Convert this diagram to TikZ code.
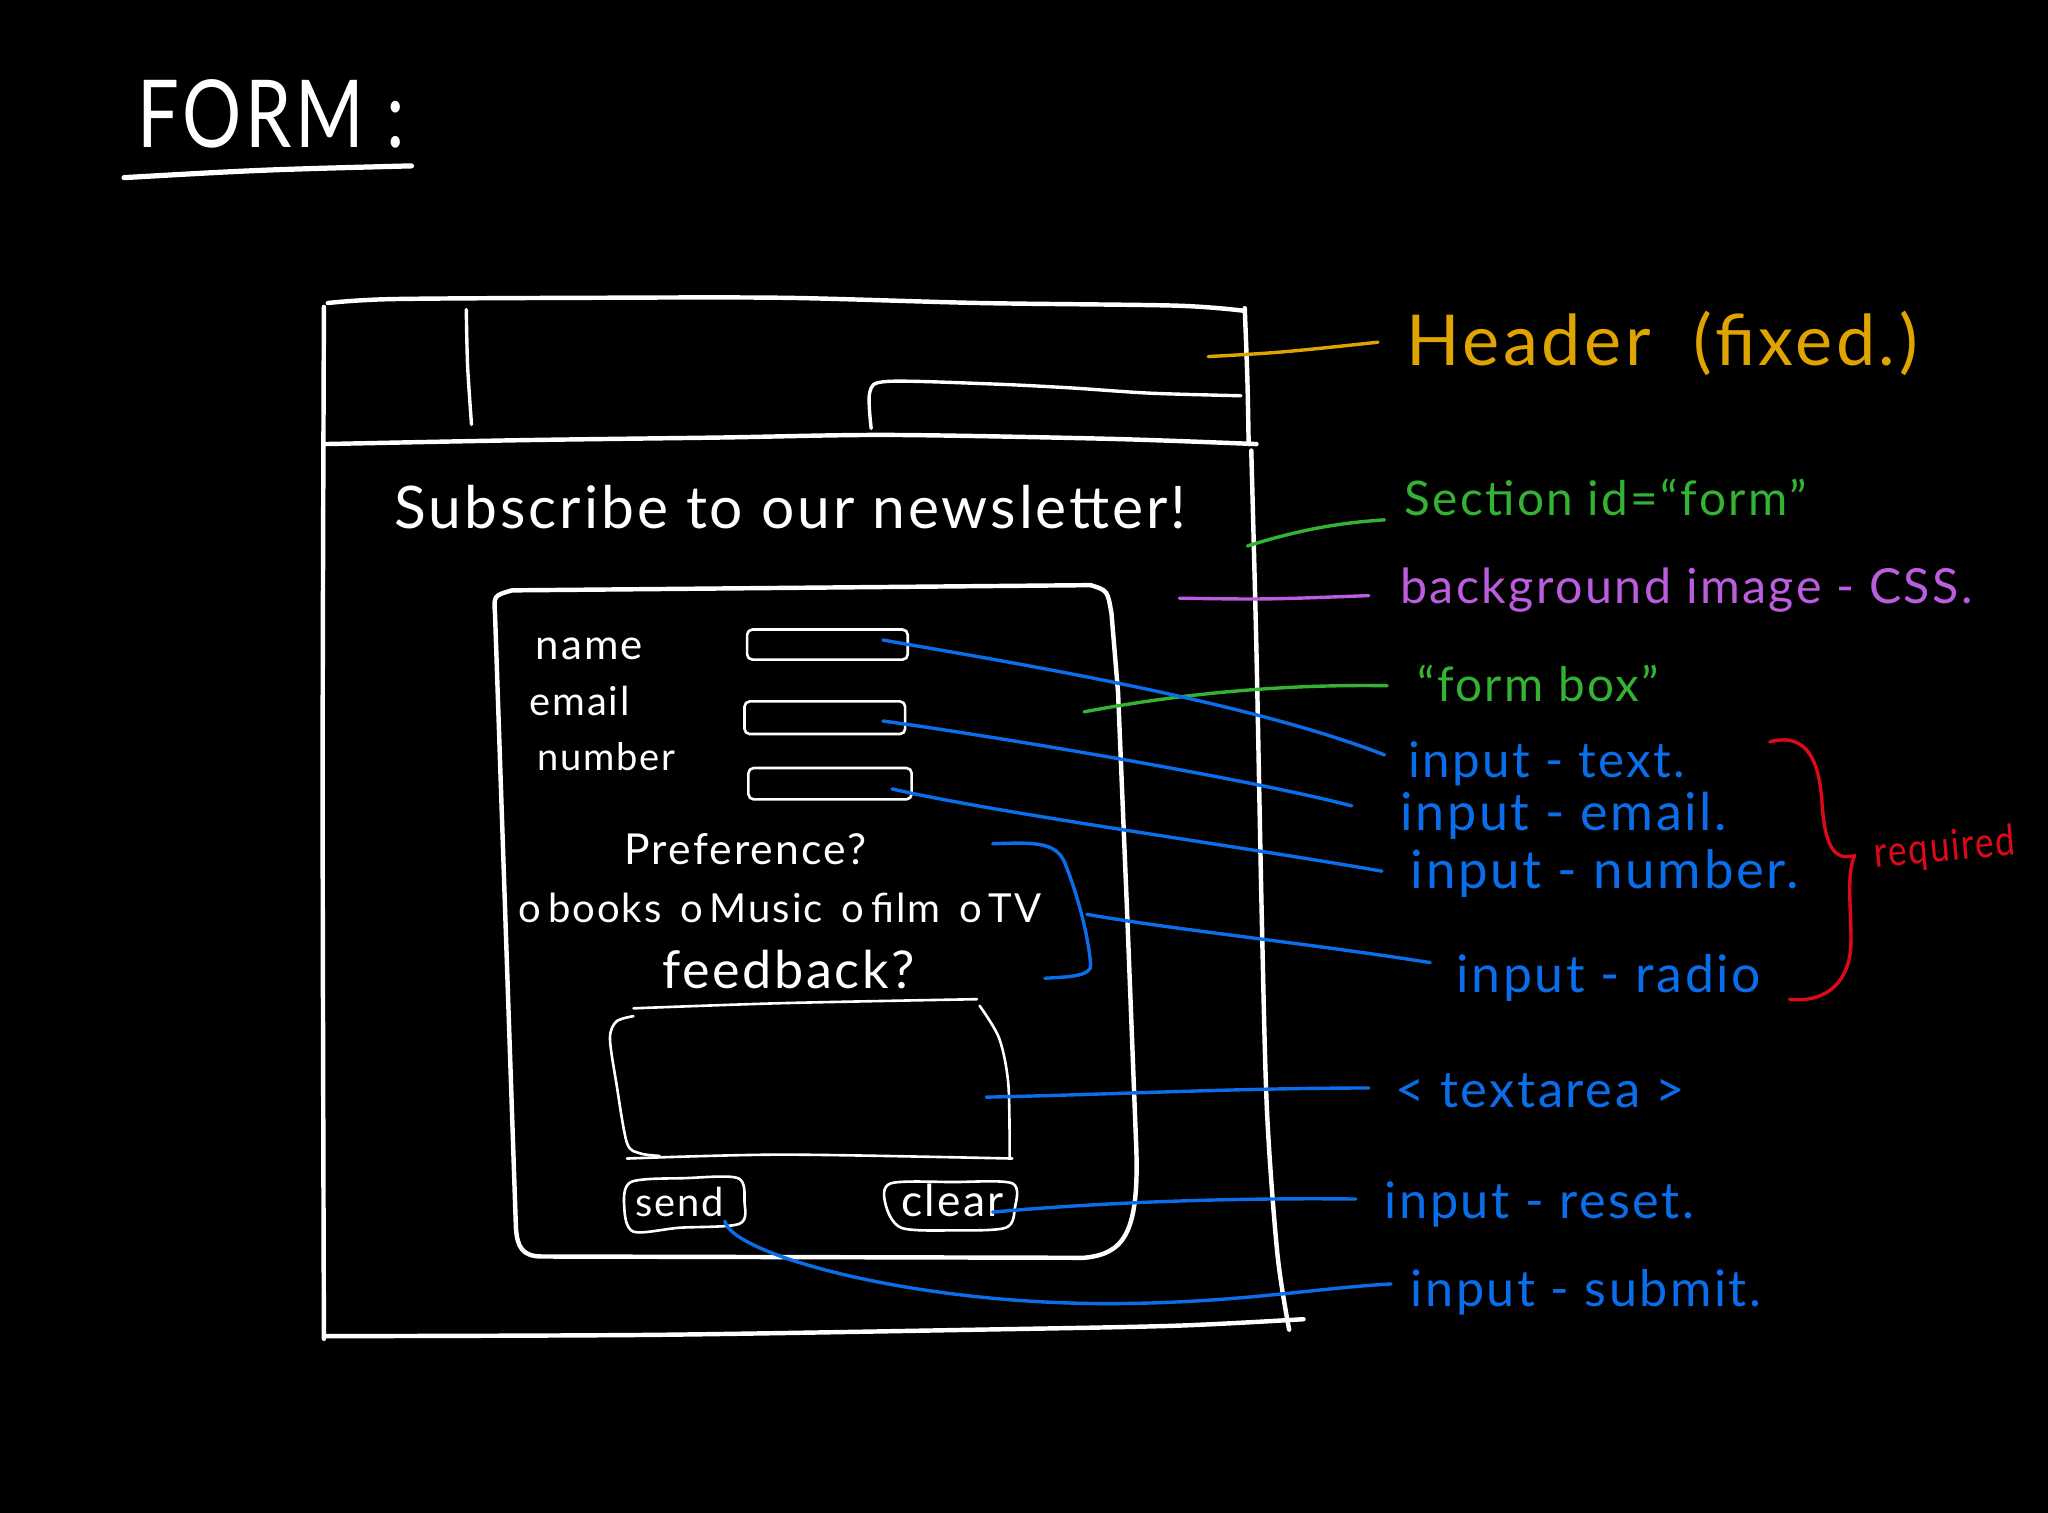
\documentclass[tikz,border=0pt]{standalone}
\usepackage{fontspec}
\setmainfont{Lato}[LetterSpace=5]
\usepackage{graphicx}
\definecolor{hyel}{RGB}{224,164,0}
\definecolor{hgrn}{RGB}{52,178,52}
\definecolor{hpur}{RGB}{188,92,222}
\definecolor{hblu}{RGB}{10,110,235}
\definecolor{hred}{RGB}{220,10,25}
\newcommand\hw[2]{\resizebox{#1pt}{!}{#2}}
\tikzset{
  txt/.style={inner sep=0pt, anchor=base west, text=white},
  lbl/.style={inner sep=0pt, anchor=base west},
  wl/.style={draw=white, line width=3.4pt, line cap=round, line join=round},
  wm/.style={draw=white, line width=2.6pt, line cap=round, line join=round},
  ws/.style={draw=white, line width=2pt, line cap=round, line join=round},
  lead/.style={line width=2.6pt, line cap=round, line join=round},
}
\begin{document}
\begin{tikzpicture}[x=1pt,y=-1pt]
\fill[black] (0,0) rectangle (1568,1158);
\useasboundingbox (0,0) rectangle (1568,1158);

% title
\node[txt] (title) at (105,113) {\resizebox{205pt}{52pt}{FORM :}};
\draw[wl, line width=4pt] (95,136) .. controls (200,130) .. (315,127);

% outer frame
\draw[wl] plot[smooth] coordinates {(251,232) (300,229) (450,228) (600,228) (750,232) (900,234) (953,238)};
\draw[wl] plot[smooth] coordinates {(248,235) (247,600) (248,1025)};
\draw[wl] plot[smooth] coordinates {(953,236) (955,290) (956,340)};
\draw[wl] plot[smooth] coordinates {(248,340) (400,337) (550,335) (680,333) (850,336) (962,340)};
\draw[wl] plot[smooth] coordinates {(958,345) (962,500) (966,700) (970,850) (978,960) (987,1018)};
\draw[wl] plot[smooth] coordinates {(249,1023) (500,1022) (750,1018) (900,1015) (998,1010)};
% header parts
\draw[wm] plot[smooth] coordinates {(357,237) (358,280) (361,325)};
\draw[wm] plot[smooth] coordinates {(667,328) (666,300) (680,292) (760,294) (820,297) (880,301) (950,303)};

\node[txt] (subscribe) at (302,405) {\hw{606}{Subscribe to our newsletter!}};

% form box
\draw[wl] (392,452) -- (835,448) .. controls (848,452) .. (851,470) -- (856,530) -- (863,700) -- (870,880)
  .. controls (872,945) and (860,960) .. (830,963) -- (415,962) .. controls (400,962) and (396,955) .. (395,940)
  -- (379,470) .. controls (378,456) .. (392,452) -- cycle;

\node[txt] (lname) at (410,505) {\hw{82}{name}};
\node[txt] (lemailf) at (405,548) {\hw{77}{email}};
\node[txt] (lnumf) at (411,590) {\hw{106}{number}};
\draw[ws, rounded corners=4pt] (572,482) rectangle (695,505);
\draw[ws, rounded corners=4pt] (570,537) rectangle (693,562);
\draw[ws, rounded corners=4pt] (573,588) rectangle (698,612);

\node[txt] (pref) at (478,662) {\hw{185}{Preference?}};
\node[txt] (radios) at (397,706) {\hw{400}{o\,books\, o\,Music\, o\,film\, o\,TV}};
\node[txt] (feed) at (507,757) {\hw{193}{feedback?}};

% textarea
\draw[ws] plot[smooth] coordinates {(485,772) (600,768) (748,765)};
\draw[ws] plot[smooth] coordinates {(485,778) (472,782) (467,795) (472,830) (480,875) (490,883) (505,885)};
\draw[ws] plot[smooth] coordinates {(480,887) (600,884) (775,887)};
\draw[ws] plot[smooth] coordinates {(750,770) (765,795) (772,830) (773,886)};

% buttons
\draw[ws] plot[smooth cycle] coordinates {(483,905) (525,902) (565,902) (570,920) (566,937) (520,940) (485,943) (478,925)};
\draw[ws] plot[smooth cycle] coordinates {(682,906) (730,905) (775,906) (777,925) (770,940) (730,942) (690,940) (678,922)};
\node[txt] (send) at (486,931) {\hw{68}{send}};
\node[txt] (clear) at (690,931) {\hw{78}{clear}};

% labels
\node[lbl, text=hyel] (lheader) at (1077,280) {\hw{391}{Header \ (fixed.)}};
\node[lbl, text=hgrn] (lsection) at (1075,395) {\hw{308}{Section id=``form''}};
\node[lbl, text=hpur] (lbg) at (1072,462) {\hw{438}{background image - CSS.}};
\node[lbl, text=hgrn] (lformbox) at (1085,537) {\hw{185}{``form box''}};
\node[lbl, text=hblu] (ltext) at (1078,595) {\hw{212}{input - text.}};
\node[lbl, text=hblu] (lemail) at (1072,636) {\hw{250}{input - email.}};
\node[lbl, text=hblu] (lnumber) at (1080,680) {\hw{297}{input - number.}};
\node[lbl, text=hblu] (lradio) at (1115,760) {\hw{233}{input - radio}};
\node[lbl, text=hblu] (ltextarea) at (1068,848) {\hw{222}{< textarea >}};
\node[lbl, text=hblu] (lreset) at (1060,933) {\hw{237}{input - reset.}};
\node[lbl, text=hblu] (lsubmit) at (1080,1000) {\hw{268}{input - submit.}};
\node[lbl, text=hred, rotate=5] (lreq) at (1436,664) {\resizebox{108pt}{24pt}{required}};

% connector points
\coordinate (sHead) at (925,273);  \coordinate (eHead) at (1055,262);
\coordinate (sSec) at (955,418);   \coordinate (eSec) at (1060,398);
\coordinate (sBg) at (903,458);    \coordinate (eBg) at (1048,456);
\coordinate (sFb) at (830,545);    \coordinate (eFb) at (1062,525);
\coordinate (sName) at (676,490);  \coordinate (eText) at (1060,578);
\coordinate (sMail) at (676,552);  \coordinate (eMail) at (1035,617);
\coordinate (sNum) at (683,604);   \coordinate (eNum) at (1058,667);
\coordinate (sRad) at (832,700);   \coordinate (eRad) at (1095,737);
\coordinate (sTa) at (755,840);    \coordinate (eTa) at (1048,833);
\coordinate (sClr) at (760,928);   \coordinate (eClr) at (1038,918);
\coordinate (sSnd) at (555,935);   \coordinate (eSnd) at (1065,983);

\draw[lead, hyel] (sHead) .. controls (980,270) .. (eHead);
\draw[lead, hgrn] (sSec) .. controls (1000,404) and (1030,400) .. (eSec);
\draw[lead, hpur] (sBg) .. controls (970,459) .. (eBg);
\draw[lead, hgrn] (sFb) .. controls (920,528) and (1000,524) .. (eFb);
\draw[lead, hblu] (sName) .. controls (760,505) and (950,535) .. (eText);
\draw[lead, hblu] (sMail) .. controls (750,562) and (950,595) .. (eMail);
\draw[lead, hblu] (sNum) .. controls (760,622) and (950,648) .. (eNum);
\draw[lead, hblu] (760,646) .. controls (790,645) and (808,644) .. (815,660) .. controls (825,685) and (833,715) .. (835,738) .. controls (837,748) and (815,748) .. (800,749);
\draw[lead, hblu] (sRad) .. controls (900,712) and (1000,722) .. (eRad);
\draw[lead, hblu] (sTa) .. controls (850,838) and (950,833) .. (eTa);
\draw[lead, hblu] (sClr) .. controls (850,920) and (950,917) .. (eClr);
\draw[lead, hblu] (sSnd) .. controls (560,960) and (700,1000) .. (860,998) .. controls (950,997) and (1010,986) .. (eSnd);

% required brace
\draw[lead, hred] (1355,568) .. controls (1385,560) and (1393,585) .. (1395,615) .. controls (1397,645) and (1403,660) .. (1420,655);
\draw[lead, hred] (1420,655) .. controls (1413,670) and (1418,700) .. (1417,725) .. controls (1415,755) and (1395,768) .. (1370,765);
\end{tikzpicture}
\end{document}
